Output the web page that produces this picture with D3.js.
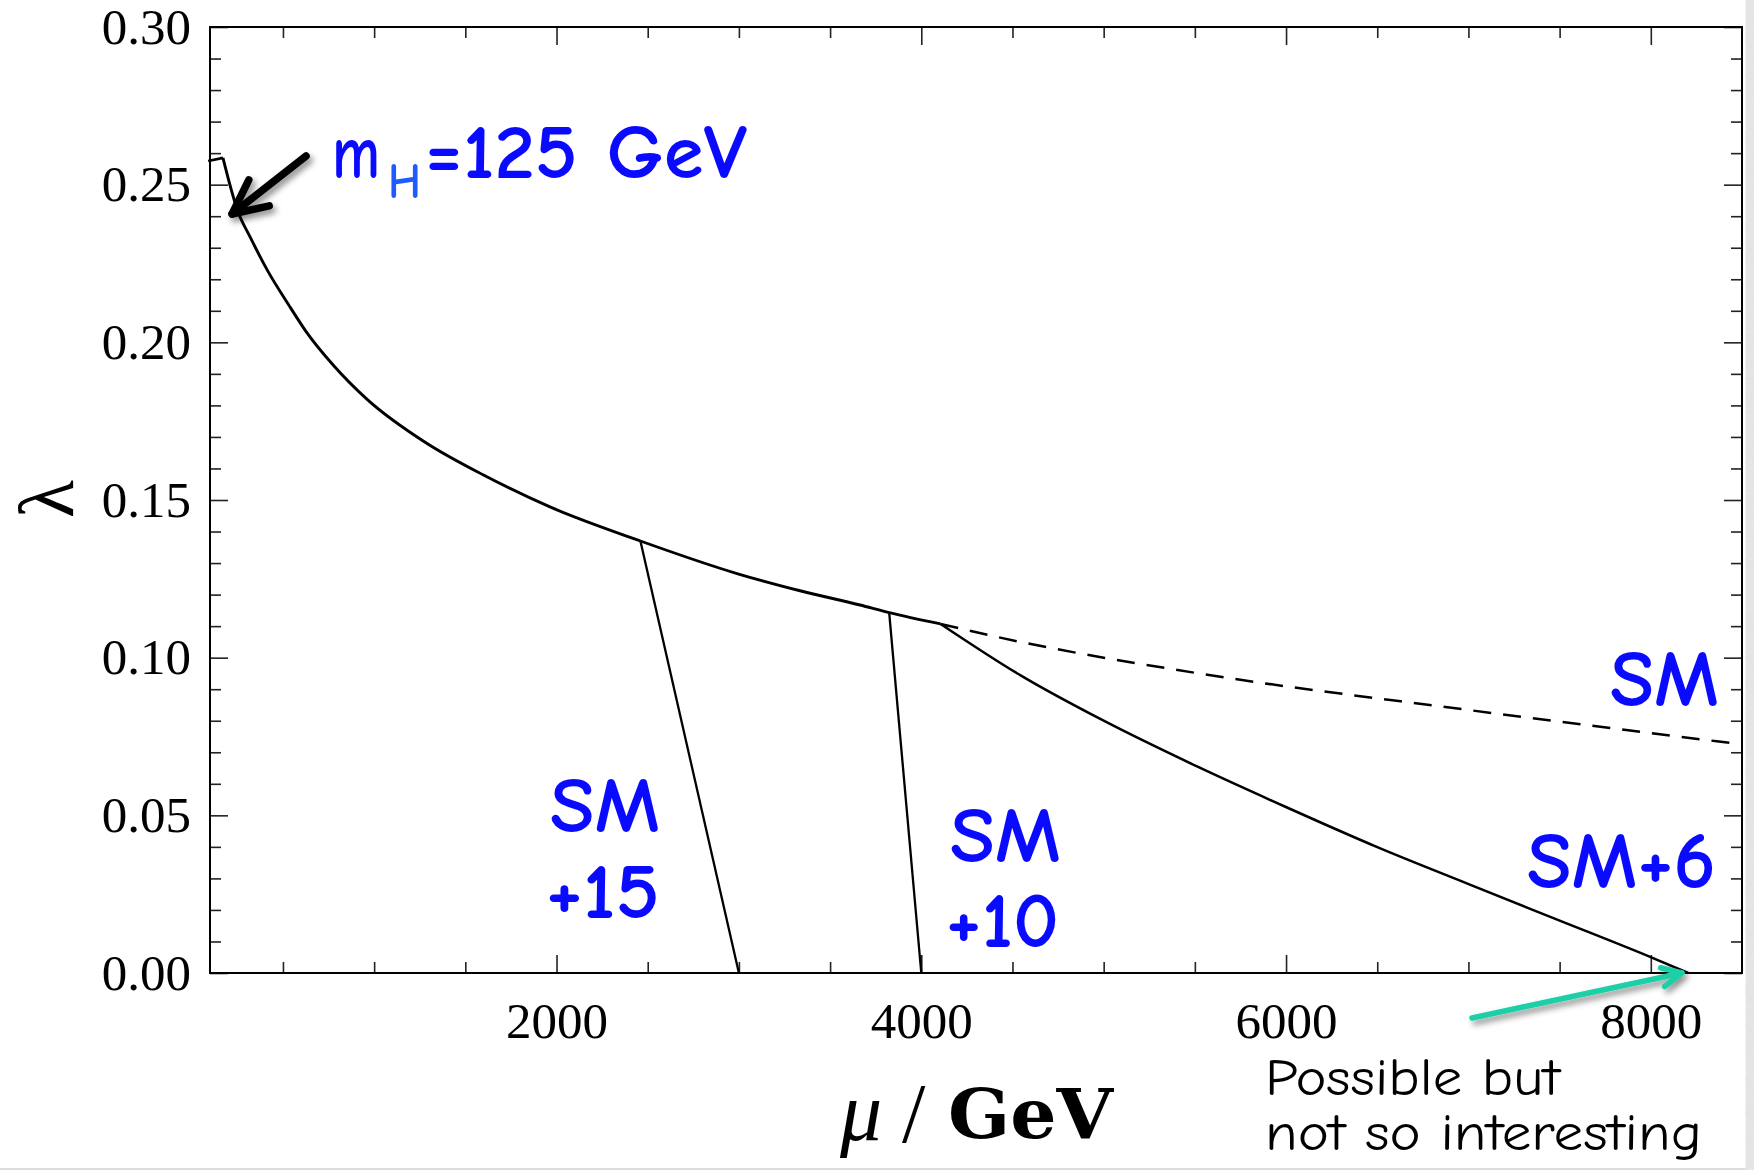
<!DOCTYPE html>
<html>
<head>
<meta charset="utf-8">
<script src="https://cdn.jsdelivr.net/npm/d3@7"></script>
<style>
  body { margin: 0; background: #fff; }
  svg { display: block; }
</style>
</head>
<body>
<svg id="chart" width="1754" height="1170"></svg>
<script>
// Running quartic coupling λ(μ) of the SM and of SM + n extra scalars
// Common (SM) trajectory up to the point where the extra scalars enter
const muSM   = [90, 171, 253, 319, 418, 530, 626, 780, 960, 1288, 1597, 1964, 2460, 2994, 3330, 3664, 3824, 4106];
const lamSM  = [0.2575, 0.2585, 0.2415, 0.2335, 0.2225, 0.2120, 0.2035, 0.1925, 0.1820, 0.1680, 0.1580, 0.1478, 0.1370, 0.1266, 0.1213, 0.1167, 0.1143, 0.1107];

// Pure SM continuation (dashed)
const muSMcont  = [4106, 4421, 5512, 7001, 8500];
const lamSMcont = [0.1107, 0.1065, 0.0951, 0.0834, 0.0725];

// SM + 6
const muSM6  = [4106, 4547, 5000, 5512, 5993, 6497, 7001, 7466, 8009, 8205];
const lamSM6 = [0.1107, 0.0943, 0.0800, 0.0655, 0.0528, 0.0400, 0.0282, 0.0174, 0.0048, 0.0];

// SM + 10
const muSM10  = [3824, 4000];
const lamSM10 = [0.1143, 0.0];

// SM + 15
const muSM15  = [2460, 3000];
const lamSM15 = [0.1370, 0.0];

// Axis ticks
const xMajor = [2000, 4000, 6000, 8000];
const xTickLabels = ["2000", "4000", "6000", "8000"];
const xMinor = [500, 1000, 1500, 2500, 3000, 3500, 4500, 5000, 5500, 6500, 7000, 7500];
const yMajor = [0, 0.05, 0.10, 0.15, 0.20, 0.25, 0.30];
const yTickLabels = ["0.00", "0.05", "0.10", "0.15", "0.20", "0.25", "0.30"];
const yMinor = [0.01,0.02,0.03,0.04,0.06,0.07,0.08,0.09,0.11,0.12,0.13,0.14,0.16,0.17,0.18,0.19,0.21,0.22,0.23,0.24,0.26,0.27,0.28,0.29];

const svg = d3.select("#chart");
const L = 210, T = 27, R = 1742, B = 973;

const x = d3.scaleLinear().domain([100, 8500]).range([L, R]);
const y = d3.scaleLinear().domain([0, 0.30]).range([B, T]);

const defs = svg.append("defs");
const sh = defs.append("filter").attr("id", "shadow").attr("x", "-50%").attr("y", "-50%").attr("width", "200%").attr("height", "200%");
sh.append("feDropShadow").attr("dx", 3).attr("dy", 4).attr("stdDeviation", 3).attr("flood-color", "#000").attr("flood-opacity", 0.45);

// paper-like border at the right and bottom edges
const grain = defs.append("filter").attr("id", "grain");
grain.append("feTurbulence").attr("type", "fractalNoise").attr("baseFrequency", 0.6).attr("numOctaves", 2).attr("result", "n");
grain.append("feColorMatrix").attr("in", "n").attr("type", "matrix")
  .attr("values", "0 0 0 0 0.82  0 0 0 0 0.82  0 0 0 0 0.82  0 0 0 -0.9 1.05");
svg.append("rect").attr("x", 1746).attr("y", 0).attr("width", 8).attr("height", 1170).attr("fill", "#dcdcdc");
svg.append("rect").attr("x", 0).attr("y", 1168).attr("width", 1754).attr("height", 2).attr("fill", "#dcdcdc");
svg.append("rect").attr("x", 1746).attr("y", 0).attr("width", 8).attr("height", 1170).attr("filter", "url(#grain)");

// ---- axes (ticks on all four sides, pointing inward)
function styleAxis(sel) {
  sel.select(".domain").remove();
  sel.selectAll(".tick line").attr("stroke", "#222").attr("stroke-width", 1.6);
  sel.selectAll(".tick text")
    .attr("fill", "#000")
    .style("font-family", "'Liberation Serif','Times New Roman',serif")
    .style("font-size", "51px");
}

svg.append("g").attr("transform", `translate(0,${B})`)
  .call(d3.axisBottom(x).tickValues(xMajor).tickFormat((d, i) => xTickLabels[i]).tickSizeInner(-18).tickSizeOuter(0).tickPadding(29))
  .call(styleAxis);
svg.append("g").attr("transform", `translate(0,${B})`)
  .call(d3.axisBottom(x).tickValues(xMinor).tickFormat(() => "").tickSizeInner(-11).tickSizeOuter(0))
  .call(styleAxis);
svg.append("g").attr("transform", `translate(0,${T})`)
  .call(d3.axisTop(x).tickValues(xMajor).tickFormat(() => "").tickSizeInner(-18).tickSizeOuter(0))
  .call(styleAxis);
svg.append("g").attr("transform", `translate(0,${T})`)
  .call(d3.axisTop(x).tickValues(xMinor).tickFormat(() => "").tickSizeInner(-11).tickSizeOuter(0))
  .call(styleAxis);

svg.append("g").attr("transform", `translate(${L},0)`)
  .call(d3.axisLeft(y).tickValues(yMajor).tickFormat((d, i) => yTickLabels[i]).tickSizeInner(-18).tickSizeOuter(0).tickPadding(19))
  .call(styleAxis);
svg.append("g").attr("transform", `translate(${L},0)`)
  .call(d3.axisLeft(y).tickValues(yMinor).tickFormat(() => "").tickSizeInner(-11).tickSizeOuter(0))
  .call(styleAxis);
svg.append("g").attr("transform", `translate(${R},0)`)
  .call(d3.axisRight(y).tickValues(yMajor).tickFormat(() => "").tickSizeInner(-18).tickSizeOuter(0))
  .call(styleAxis);
svg.append("g").attr("transform", `translate(${R},0)`)
  .call(d3.axisRight(y).tickValues(yMinor).tickFormat(() => "").tickSizeInner(-11).tickSizeOuter(0))
  .call(styleAxis);

svg.append("rect").attr("x", L).attr("y", T).attr("width", R - L).attr("height", B - T)
  .attr("fill", "none").attr("stroke", "#000").attr("stroke-width", 2);

// ---- curves
const zip = (a, b) => a.map((v, i) => [v, b[i]]);
const smooth = d3.line().x(d => x(d[0])).y(d => y(d[1])).curve(d3.curveMonotoneX);
const straight = d3.line().x(d => x(d[0])).y(d => y(d[1]));

const smPts = zip(muSM, lamSM);
const curves = svg.append("g").attr("fill", "none").attr("stroke", "#000")
  .attr("stroke-linejoin", "round").attr("stroke-linecap", "butt");

curves.append("path").attr("d", straight(smPts.slice(0, 2))).attr("stroke-width", 2.6);
curves.append("path").attr("d", smooth(smPts.slice(1))).attr("stroke-width", 2.9);
curves.append("path").attr("d", smooth(zip(muSMcont, lamSMcont))).attr("stroke-width", 2.5).attr("stroke-dasharray", "18,12");
curves.append("path").attr("d", smooth(zip(muSM6, lamSM6))).attr("stroke-width", 2.5);
curves.append("path").attr("d", straight(zip(muSM10, lamSM10))).attr("stroke-width", 2.3);
curves.append("path").attr("d", straight(zip(muSM15, lamSM15))).attr("stroke-width", 2.3);

// ---- axis titles
svg.append("text").attr("transform", "translate(46,499) rotate(-90)")
  .attr("text-anchor", "middle").attr("dominant-baseline", "central")
  .style("font-family", "'Liberation Serif','Times New Roman',serif").style("font-size", "78px")
  .text("λ");
svg.append("text").attr("x", 840).attr("y", 1140)
  .style("font-family", "'Liberation Serif','Times New Roman',serif").style("font-style", "italic").style("font-size", "84px")
  .text("μ");
svg.append("text").attr("x", 902).attr("y", 1142)
  .style("font-family", "'Liberation Serif','Times New Roman',serif").style("font-size", "84px")
  .text("/");
svg.append("text").attr("x", 948).attr("y", 1138).attr("textLength", 165).attr("lengthAdjust", "spacingAndGlyphs")
  .style("font-family", "'DejaVu Serif',serif").style("font-weight", "bold").style("font-size", "70px")
  .text("GeV");

// ---- annotations
const hand = "'Comic Sans MS','Comic Neue','Open Sans',sans-serif";
function note(txt, x0, base, width, size, color, weight) {
  svg.append("text").attr("x", x0).attr("y", base)
    .attr("textLength", width).attr("lengthAdjust", "spacingAndGlyphs")
    .attr("fill", color)
    .style("font-family", hand).style("font-size", size + "px").style("font-weight", weight || 700)
    .text(txt);
}
const blue = "#0a0aff";
note("m", 332, 178, 48, 76, blue);
note("H", 388, 198, 33, 50, "#1f5bff", 600);
note("=125 GeV", 425, 178, 322, 76, blue);
note("SM", 1610, 706, 109, 80, blue);
note("SM+6", 1527, 888, 189, 80, blue);
note("SM", 550, 832, 110, 78, blue);
note("+15", 546, 918, 114, 78, blue);
note("SM", 950, 862, 111, 78, blue);
note("+10", 946, 947, 113, 78, blue);
note("Possible but", 1265, 1095, 295, 52, "#000", 500);
note("not so interesting", 1265, 1150, 437, 52, "#000", 500);

// ---- arrows
function arrow(tip, tail, color, width, head) {
  const [tx, ty] = tip, [sx, sy] = tail;
  const a = Math.atan2(sy - ty, sx - tx);
  const spread = 0.45;
  const p1 = [tx + head * Math.cos(a + spread), ty + head * Math.sin(a + spread)];
  const p2 = [tx + head * Math.cos(a - spread), ty + head * Math.sin(a - spread)];
  const gA = svg.append("g").attr("filter", "url(#shadow)").attr("stroke", color)
    .attr("stroke-width", width).attr("stroke-linecap", "round").attr("stroke-linejoin", "round").attr("fill", "none");
  gA.append("path").attr("d", `M${sx},${sy}L${tx},${ty}`);
  gA.append("path").attr("d", `M${p1[0]},${p1[1]}L${tx},${ty}L${p2[0]},${p2[1]}`);
}
// points at the m_H = 125 GeV start of the running
const tipH = [x(221), y(0.2407)];
arrow(tipH, [tipH[0] + 74, tipH[1] - 58], "#000", 7.5, 38);
// points at the SM+6 zero crossing
const tip6 = [x(8171), y(0)];
arrow(tip6, [tip6[0] - 210, tip6[1] + 45], "#1ecfa6", 5.5, 22);
</script>
</body>
</html>
